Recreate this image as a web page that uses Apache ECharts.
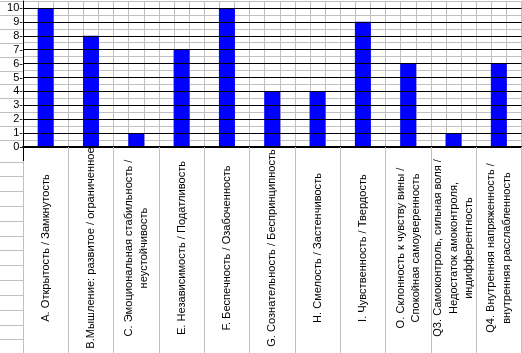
<!DOCTYPE html>
<html><head><meta charset="utf-8">
<script src="https://cdn.jsdelivr.net/npm/echarts@6/dist/echarts.min.js"></script>
<style>html,body{margin:0;padding:0;background:#fff}#c{width:522px;height:353px}</style>
</head><body><div id="c"></div>
<script>
const categories = [
  'A. Открытость / Замкнутость',
  'B.Мышление: развитое / ограниченное',
  'C. Эмоциональная стабильность /\nнеустойчивость',
  'E. Независимость / Податливость',
  'F. Беспечность / Озабоченность',
  'G. Сознательность / Беспринципность',
  'H. Смелость / Застенчивость',
  'I. Чувственность / Твердость',
  'O. Склонность к чувству вины /\nСпокойная самоуверенность',
  'Q3. Самоконтроль, сильная воля /\nНедостаток амоконтроля,\nиндифферентность',
  'Q4. Внутренняя напряженность /\nвнутренняя расслабленность'
];
const values = [10, 8, 1, 7, 10, 4, 4, 9, 6, 1, 6];
const yMin = 0, yMax = 10.5, yStep = 0.5;

const GRAY = '#c0c0c0';
const FONT = '"Liberation Sans", Arial, sans-serif';
const NONE = 'rgba(0,0,0,0)';

const chart = echarts.init(document.getElementById('c'), null, {renderer: 'canvas'});
const option = {
  animation: false,
  backgroundColor: '#fff',
  grid: {left: 23, right: 0.5, top: 1, bottom: 206, containLabel: false, outerBoundsMode: 'none'},
  xAxis: [{
    type: 'category', data: categories, position: 'bottom',
    axisLine: {show: true, lineStyle: {color: '#000', width: 2}},
    axisTick: {show: true, length: 206, lineStyle: {color: GRAY, width: 1}},
    axisLabel: {interval: 0, rotate: 90, align: 'center', verticalAlign: 'middle', margin: 101,
      fontFamily: FONT, fontSize: 11.1, color: '#000', lineHeight: 15.5},
    splitLine: {show: false}, z: 3
  }, {
    type: 'value', min: 0, max: 33, interval: 1, position: 'top',
    axisLine: {show: false}, axisTick: {show: false}, axisLabel: {show: false},
    splitLine: {show: true, lineStyle: {color: GRAY, width: 1}}, z: 0
  }],
  yAxis: [{
    type: 'value', min: yMin, max: yMax, interval: yStep, position: 'left',
    axisLine: {show: true, lineStyle: {color: '#000', width: 1}},
    axisTick: {show: false},
    axisLabel: {formatter: v => Number.isInteger(v) ? v + '-' : '', margin: 0,
      fontFamily: FONT, fontSize: 11, color: '#000'},
    splitLine: {show: true, lineStyle: {color: ['#000', NONE], width: 1}}, z: 3
  }, {
    type: 'value', min: yMin, max: yMax, interval: yStep, position: 'left',
    axisLine: {show: false}, axisTick: {show: false}, axisLabel: {show: false},
    splitLine: {show: true, lineStyle: {color: [NONE, GRAY], width: 1}}, z: 0
  }],
  series: [{
    type: 'bar', data: values, xAxisIndex: 0, yAxisIndex: 0,
    barWidth: 16, itemStyle: {color: '#0000ff'}, z: 2
  }]
};
chart.setOption(option);

// decorative spreadsheet rows in the left margin
const x0 = chart.convertToPixel({xAxisIndex: 1}, 0);
const y0 = chart.convertToPixel({yAxisIndex: 0}, 0);
const g = [];
for (let v = yStep; v <= yMax + 1e-9; v += 1) {
  const y = Math.round(chart.convertToPixel({yAxisIndex: 0}, v)) + 0.5;
  g.push({type: 'line', shape: {x1: 0, y1: y, x2: x0, y2: y}, style: {stroke: GRAY, lineWidth: 1}, z: -1});
}
for (let y = y0 + 14.5; y < 353; y += 14.83) {
  const yy = Math.round(y) + 0.5;
  g.push({type: 'line', shape: {x1: 0, y1: yy, x2: x0, y2: yy}, style: {stroke: GRAY, lineWidth: 1}, z: -1});
}
const xa = Math.round(x0) + 0.5;
g.push({type: 'line', shape: {x1: xa, y1: y0, x2: xa, y2: y0 + 14}, style: {stroke: '#000', lineWidth: 1}, z: 10});
chart.setOption({graphic: g});
</script></body></html>
